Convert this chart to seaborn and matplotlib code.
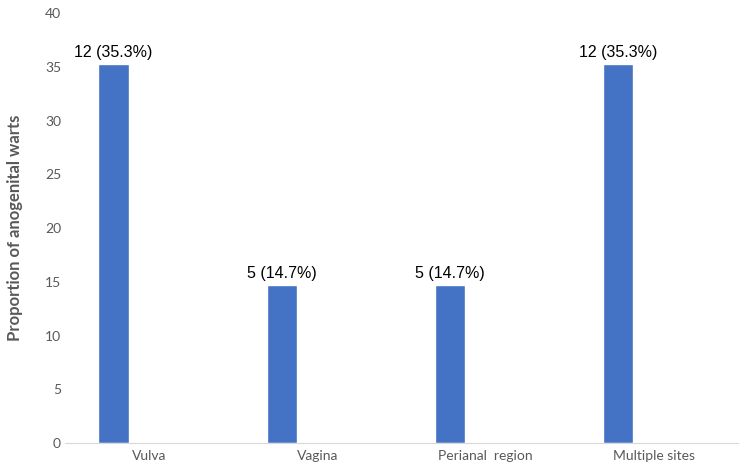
import pandas as pd
import seaborn as sns
import matplotlib.pyplot as plt

sites = ["Vulva", "Vagina", "Perianal  region", "Multiple sites"]
counts = [12, 5, 5, 12]
percent = [35.3, 14.7, 14.7, 35.3]

df = pd.DataFrame({"Site": sites, "Percent": percent, "Series": "Cases"})

sns.set_style("white")
plt.rcParams['font.family'] = ['Lato', 'DejaVu Sans']

fig = plt.figure(figsize=(7.5, 4.71), dpi=100)
ax = fig.add_axes([0.087, 0.0595, 0.897, 0.9125])

# second (empty) hue level keeps the bar on the left of each slot, like the original
sns.barplot(data=df, x="Site", y="Percent", hue="Series", hue_order=["Cases", "Blank"],
            palette={"Cases": "#4472C4", "Blank": "#ED7D31"}, width=0.852, gap=0.58,
            dodge=True, saturation=1, legend=False, ax=ax)

labels = [f"{c} ({p}%)" for c, p in zip(counts, percent)]
ax.bar_label(ax.containers[0], labels=labels, padding=3, fontsize=11.5,
             family=['Liberation Sans', 'DejaVu Sans'], color='black')

ax.set_ylim(0, 40)
ax.set_yticks(range(0, 41, 5))
ax.set_xlim(-0.5, 3.5)
ax.set_xlabel("")
ax.set_ylabel("Proportion of anogenital warts", fontsize=12, fontweight='bold', color='#595959', labelpad=16)
ax.tick_params(axis='both', length=0, labelsize=10, labelcolor='#595959')
ax.tick_params(axis='y', pad=3)
ax.tick_params(axis='x', pad=5)
for s in ['top', 'right', 'left']:
    ax.spines[s].set_visible(False)
ax.spines['bottom'].set_color('#D9D9D9')

fig.savefig("out.png", dpi=100)
